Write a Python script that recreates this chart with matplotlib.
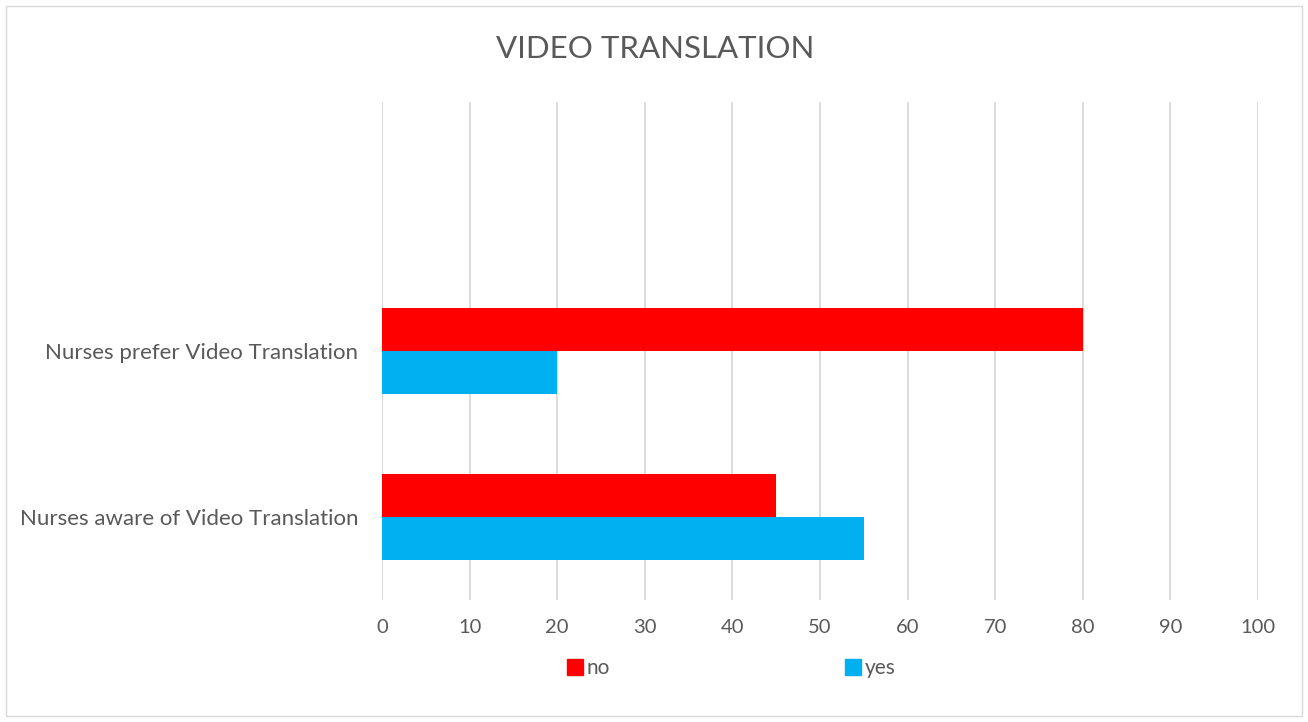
import numpy as np
import matplotlib.pyplot as plt
from matplotlib.patches import Rectangle
from matplotlib.lines import Line2D

# data
categories = ["Nurses aware of Video Translation", "Nurses prefer Video Translation", ""]
no_vals = [45, 80, np.nan]
yes_vals = [55, 20, np.nan]
series_names = ["no", "yes"]
colors = {"no": "#ff0000", "yes": "#00b0f0"}
x_ticks = list(range(0, 101, 10))

plt.rcParams['font.family'] = ['Lato', 'DejaVu Sans']
txt = '#595959'

fig = plt.figure(figsize=(13.08, 7.22), dpi=100)
fig.patch.set_facecolor('white')
fig.patches.append(Rectangle((6 / 1308, 6 / 722), 1296 / 1308, 710 / 722,
                             transform=fig.transFigure, fill=False,
                             edgecolor='#d9d9d9', linewidth=1))

ax = fig.add_axes([382 / 1308, 1 - 600 / 722, 876 / 1308, 498 / 722])

y = np.arange(len(categories))
h = 0.26
ax.barh(y + h / 2, no_vals, height=h, color=colors["no"], zorder=3)
ax.barh(y - h / 2, yes_vals, height=h, color=colors["yes"], zorder=3)

ax.set_xlim(0, 100)
ax.set_ylim(-0.5, len(categories) - 0.5)
ax.set_xticks(x_ticks)
ax.set_yticks(y)
ax.set_yticklabels(categories)
ax.grid(axis='x', color='#d9d9d9', linewidth=1.3, zorder=0)
ax.tick_params(axis='x', length=0, labelsize=14.5, colors=txt, pad=14)
ax.tick_params(axis='y', length=0, labelsize=16, colors=txt, pad=17)
for s in ax.spines.values():
    s.set_visible(False)

fig.text(655 / 1308, 1 - 49 / 722, "VIDEO TRANSLATION", ha='center', va='center',
         fontsize=22.5, color=txt)

handles = [Line2D([], [], marker='s', linestyle='none', markersize=11,
                  color=colors[n]) for n in series_names]
fig.legend(handles, series_names, loc='center', bbox_to_anchor=(730 / 1308, 1 - 668 / 722),
           ncol=2, frameon=False, fontsize=15, labelcolor=txt,
           handletextpad=0.05, columnspacing=11.2, handlelength=1.0)

fig.savefig('out.png', dpi=100)
